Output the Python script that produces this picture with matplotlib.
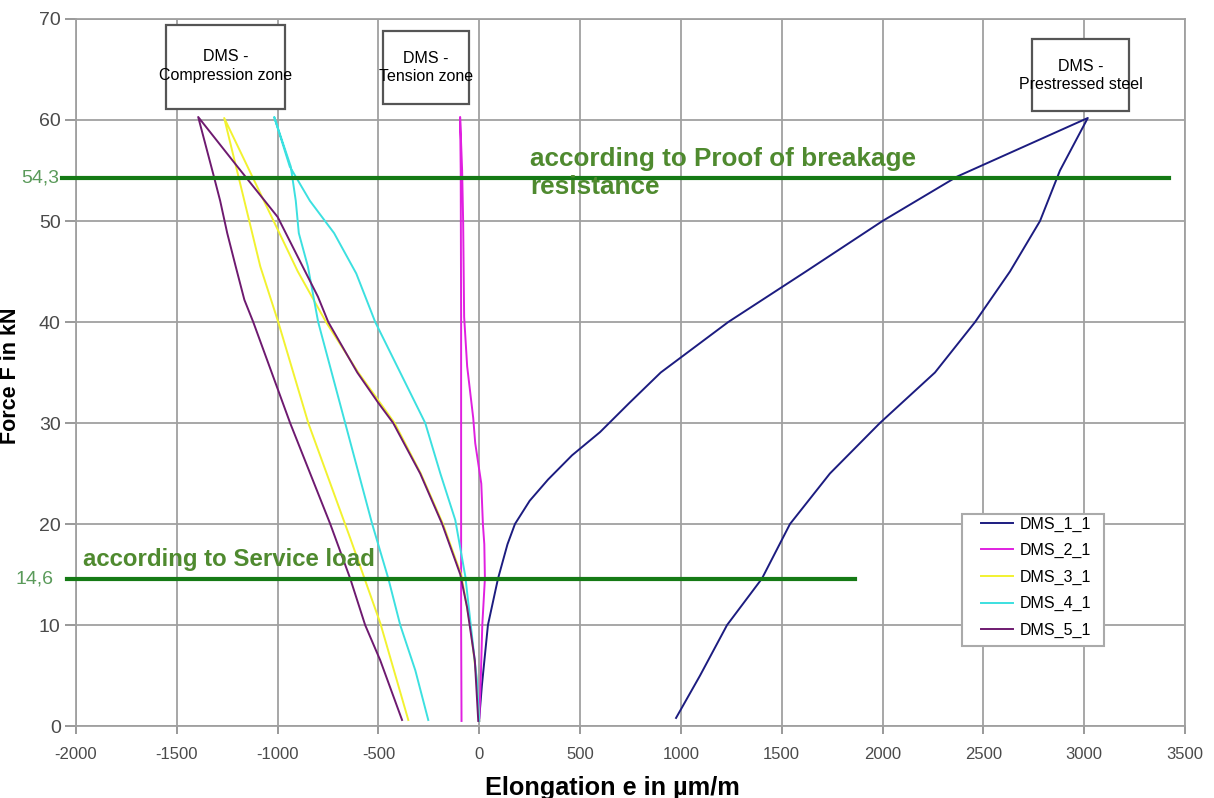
import matplotlib
matplotlib.use("Agg")
import matplotlib.pyplot as plt
from matplotlib.patches import Rectangle

plt.rcParams['font.family'] = ['Liberation Sans', 'DejaVu Sans']
plt.rcParams['axes.unicode_minus'] = False

# Strain gauge readings: elongation (µm/m) vs. force (kN), loading then unloading
dms1_e = [0, 13, 43, 93, 140, 177, 250, 341, 460, 599, 745, 900, 1235, 1620, 2000, 2370, 3018,
          2880, 2781, 2632, 2459, 2260, 1987, 1739, 1541, 1402, 1229, 1095, 976]
dms1_f = [0.8, 4, 10, 14.6, 18, 20, 22.3, 24.4, 26.8, 29.1, 32, 35, 40, 45, 50, 54.4, 60.2,
          55, 50, 45, 40, 35, 30, 25, 20, 14.6, 10, 5, 0.8]

dms2_e = [0, 8, 15, 28, 25, 18, 10, -20, -30, -60, -75, -80, -85, -95,
          -92, -90, -90, -90, -88]
dms2_f = [0.5, 5, 10, 14.6, 18, 20, 24, 28, 30.5, 35.6, 40.5, 50, 55, 60.3,
          55, 40, 20, 10, 0.5]

dms3_e = [0, -15, -45, -90, -180, -290, -420, -600, -760, -900, -1020, -1140, -1265,
          -1165, -1086, -997, -848, -640, -491, -352]
dms3_f = [0.5, 5, 10, 15, 20, 25, 30, 35, 40, 45, 50, 55, 60.2,
          52, 45.5, 40, 30, 18.6, 10.2, 0.6]

dms4_e = [0, -12, -69, -119, -193, -268, -516, -610, -720, -840, -940, -1017,
          -935, -910, -895, -850, -799, -665, -531, -451, -392, -317, -253]
dms4_f = [0.5, 4.6, 14.8, 20.4, 25, 30, 40, 44.8, 48.8, 52, 55.4, 60.3,
          55.4, 52, 48.8, 45.5, 40, 30, 20, 14.6, 10, 5.5, 0.6]

dms5_e = [-5, -22, -61, -94, -184, -293, -427, -501, -605, -749, -800, -1000, -1200, -1394,
          -1320, -1285, -1250, -1208, -1165, -1121, -938, -739, -640, -566, -491, -383]
dms5_f = [0.5, 6.5, 11.8, 15, 20, 25, 30, 32, 35, 40, 42.5, 50.4, 55.4, 60.3,
          54.7, 52, 48.8, 45.5, 42.2, 40, 30, 20, 14.6, 10, 6.5, 0.6]

series_names = ['DMS_1_1', 'DMS_2_1', 'DMS_3_1', 'DMS_4_1', 'DMS_5_1']
series_colors = ['#1c1c80', '#e020e0', '#f2f230', '#3ce0e0', '#6e1a70']

proof_load = 54.3
service_load = 14.6

x_ticks = [-2000, -1500, -1000, -500, 0, 500, 1000, 1500, 2000, 2500, 3000, 3500]
y_ticks = [0, 10, 20, 30, 40, 50, 60, 70]

fig = plt.figure(figsize=(12.14, 7.98), dpi=100)
ax = fig.add_axes([0.0626, 0.0902, 0.9135, 0.886])

grid_c = '#a0a0a0'
for xv in x_ticks:
    ax.axvline(xv, color=grid_c, lw=1.3, zorder=0)
for yv in y_ticks:
    ax.axhline(yv, color=grid_c, lw=1.3, zorder=0)

data = [(dms1_e, dms1_f), (dms2_e, dms2_f), (dms3_e, dms3_f),
        (dms4_e, dms4_f), (dms5_e, dms5_f)]
for (e, f), name, c in zip(data, series_names, series_colors):
    ax.plot(e, f, color=c, lw=1.4, label=name, zorder=3)

# Reference load levels
green = '#157a15'
ax.plot([-2070, 3420], [proof_load, proof_load], color=green, lw=3, clip_on=False, zorder=4)
ax.plot([-2045, 1865], [service_load, service_load], color=green, lw=3, clip_on=False, zorder=4)

txt_green = '#4f8a2f'
ax.text(253, 54.75, 'according to Proof of breakage\nresistance', color=txt_green,
        fontsize=18.8, fontweight='bold', ha='left', va='center', linespacing=1.25, zorder=5)
ax.text(-1966, 16.45, 'according to Service load', color=txt_green,
        fontsize=17.3, fontweight='bold', ha='left', va='center', zorder=5)

ax.text(-0.0155, proof_load, '54,3', transform=ax.get_yaxis_transform(), color='#5a9a5a',
        fontsize=14, ha='right', va='center')
ax.text(-0.020, service_load, '14,6', transform=ax.get_yaxis_transform(), color='#5a9a5a',
        fontsize=14, ha='right', va='center')

# Gauge group labels
boxes = [(-1553, 61.1, 591, 8.3, 65.35, 'DMS -\nCompression zone'),
         (-476, 61.6, 426, 7.2, 65.2, 'DMS -\nTension zone'),
         (2743, 60.9, 481, 7.1, 64.4, 'DMS -\nPrestressed steel')]
for bx, by, bw, bh, ty, label in boxes:
    ax.add_patch(Rectangle((bx, by), bw, bh, facecolor='white', edgecolor='#555555',
                           lw=1.6, zorder=6, clip_on=False))
    ax.text(bx + bw / 2, ty, label, ha='center', va='center',
            fontsize=11.5, linespacing=1.3, zorder=7)

ax.set_xlim(-2000, 3500)
ax.set_ylim(0, 70)
ax.set_xticks(x_ticks)
ax.set_yticks(y_ticks)
ax.tick_params(axis='both', colors='#888888', labelcolor='#4a4a4a', width=1.2)
ax.tick_params(axis='x', labelsize=12, length=6, pad=9)
ax.tick_params(axis='y', labelsize=14, length=8, pad=3)
for s in ax.spines.values():
    s.set_color(grid_c)
    s.set_linewidth(1.3)

ax.set_xlabel('Elongation e in µm/m', fontsize=18.2, fontweight='bold')
ax.xaxis.set_label_coords(0.4835, -0.0705)
ax.set_ylabel('Force F in kN', fontsize=15.5, fontweight='bold')
ax.yaxis.set_label_coords(-0.05, 0.496)

# Legend: frame drawn as a fixed box, entries placed inside it
ax.add_patch(Rectangle((0.799, 0.113), 0.128, 0.187, transform=ax.transAxes,
                       facecolor='white', edgecolor='#aaaaaa', lw=1.5, zorder=8))
leg = ax.legend(loc='upper left', bbox_to_anchor=(0.8165, 0.2965), borderaxespad=0,
                borderpad=0, fontsize=11.5, handlelength=1.95, labelspacing=0.72,
                handletextpad=0.45, frameon=False)
leg.set_zorder(9)

fig.savefig('out.png', dpi=100)
